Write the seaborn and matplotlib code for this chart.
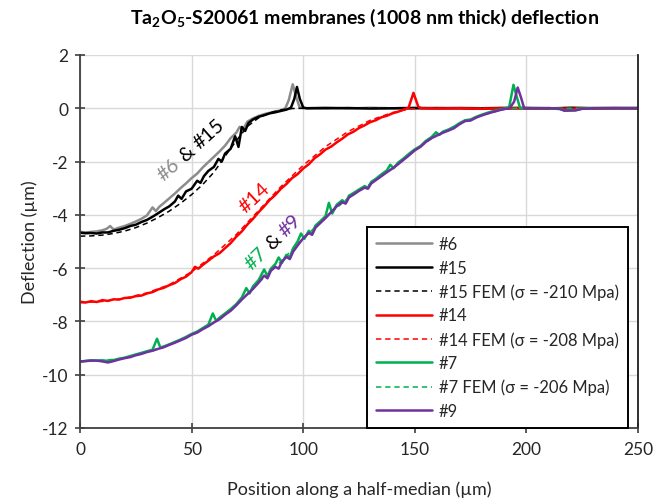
import numpy as np
import pandas as pd
import seaborn as sns
import matplotlib
matplotlib.use("Agg")
import matplotlib.pyplot as plt
import matplotlib.transforms as mtransforms

# ---------------- data ----------------
s6 = [(0,-4.64),(2.5,-4.66),(5,-4.64),(7.5,-4.62),(10,-4.58),(12,-4.52),(13.5,-4.42),(15,-4.55),
      (17.5,-4.48),(20,-4.42),(22.5,-4.34),(25,-4.25),(27.5,-4.15),(30,-4.02),(32.5,-3.72),(34,-3.86),
      (35.5,-3.70),(37.5,-3.56),(40,-3.38),(42.5,-3.20),(45,-3.00),(47.5,-2.82),(50,-2.62),(52.5,-2.45),
      (55,-2.22),(57.5,-2.02),(60,-1.82),(62.5,-1.62),(65,-1.40),(67.5,-1.12),(70,-0.92),(71.5,-0.70),
      (73,-0.80),(75,-0.50),(77.5,-0.38),(80,-0.29),(82.5,-0.22),(85,-0.17),(87.5,-0.12),(90,-0.07),
      (92,0.0),(93.5,0.30),(95.3,0.90),(96.8,0.45),(98.3,0.05),(100,0.0),(110,0.03),(120,-0.01),
      (130,0.02),(140,0.0),(150,0.03),(160,-0.01),(170,0.02),(180,0.0),(190,0.03),(200,0.01),
      (210,-0.02),(220,0.03),(230,0.01),(240,0.02),(250,0.0)]

s15 = [(0,-4.67),(2.5,-4.69),(5,-4.68),(7.5,-4.70),(10,-4.66),(12.5,-4.66),(15,-4.60),(17.5,-4.56),
       (20,-4.50),(22.5,-4.42),(25,-4.37),(27.5,-4.27),(30,-4.19),(32.5,-4.07),(35,-3.94),(37.5,-3.80),
       (40,-3.68),(42.5,-3.50),(44,-3.28),(45.5,-3.40),(47.5,-3.12),(50,-3.02),(52.5,-2.72),(54,-2.80),
       (55.5,-2.55),(57.5,-2.35),(60,-2.20),(62,-1.90),(63.5,-2.00),(65,-1.70),(67.5,-1.52),(69.5,-1.05),
       (71,-1.45),(72.5,-0.70),(74,-0.85),(75.5,-0.55),(77.5,-0.42),(80,-0.32),(82.5,-0.26),(85,-0.19),
       (87.5,-0.15),(90,-0.10),(92.5,-0.05),(94.5,0.02),(96,0.35),(97.2,0.80),(98.5,0.35),(100,0.03),
       (101.5,0.0),(110,0.0),(120,0.01),(130,-0.01),(140,0.0),(150,0.0),(160,0.01),(170,0.0),
       (180,-0.01),(190,0.0),(200,0.01),(210,0.0),(220,0.01),(230,0.0),(240,0.0),(250,0.01)]

s15_fem = [(0,-4.80),(5,-4.79),(10,-4.76),(15,-4.70),(20,-4.61),(25,-4.48),(30,-4.31),(35,-4.10),
           (40,-3.86),(45,-3.57),(50,-3.24),(55,-2.86),(60,-2.40),(65,-1.80),(70,-1.22),(75,-0.68),
           (80,-0.36),(85,-0.17),(90,-0.06),(95,-0.01),(100,0.0),(250,0.0)]

s14 = [(0,-7.26),(2.5,-7.29),(5,-7.24),(7.5,-7.27),(10,-7.20),(12.5,-7.23),(15,-7.17),(17.5,-7.18),
       (20,-7.12),(22.5,-7.11),(25,-7.05),(27.5,-7.03),(30,-6.95),(32.5,-6.90),(35,-6.80),(37.5,-6.74),
       (40,-6.64),(42.5,-6.56),(45,-6.42),(47.5,-6.32),(50,-6.15),(51.5,-5.95),(53,-6.02),(55,-5.88),
       (57.5,-5.72),(60,-5.56),(62.5,-5.44),(65,-5.25),(67.5,-5.06),(70,-4.82),(72.5,-4.62),(75,-4.36),
       (77.5,-4.15),(80,-3.90),(82.5,-3.68),(85,-3.44),(87.5,-3.25),(90,-3.02),(92.5,-2.84),(95,-2.62),
       (97.5,-2.47),(100,-2.26),(102.5,-2.10),(105,-1.88),(107.5,-1.73),(110,-1.55),(112.5,-1.44),
       (115,-1.28),(117.5,-1.14),(120,-0.98),(122.5,-0.88),(125,-0.74),(127.5,-0.64),(130,-0.52),
       (132.5,-0.45),(135,-0.34),(137.5,-0.28),(140,-0.19),(142.5,-0.13),(145,-0.05),(147.2,0.02),
       (149.4,0.58),(151.6,0.05),(153,0.0),(160,-0.01),(170,0.0),(180,-0.02),(190,0.0),(200,-0.01),
       (210,0.0),(220,-0.02),(230,0.0),(240,-0.01),(250,0.0)]

s14_fem = [(0,-7.30),(10,-7.25),(20,-7.13),(30,-6.93),(40,-6.62),(50,-6.14),(60,-5.50),(70,-4.74),
           (80,-3.84),(90,-2.94),(100,-2.14),(110,-1.44),(120,-0.88),(130,-0.45),(140,-0.16),
           (148,-0.02),(152,0.0),(250,0.0)]

s7 = [(0,-9.52),(2.5,-9.48),(5,-9.46),(7.5,-9.47),(10,-9.46),(12.5,-9.48),(15,-9.45),(17.5,-9.40),
      (20,-9.36),(22.5,-9.30),(25,-9.24),(27.5,-9.18),(30,-9.12),(32.5,-9.06),(34.5,-8.65),(36,-8.98),
      (37.5,-8.94),(40,-8.86),(42.5,-8.77),(45,-8.68),(47.5,-8.58),(50,-8.47),(52.5,-8.38),(55,-8.25),
      (57.5,-8.12),(59.5,-7.70),(61,-7.98),(62.5,-7.86),(65,-7.70),(67.5,-7.54),(70,-7.35),(72.5,-7.10),
      (74.5,-6.75),(76,-6.95),(77.5,-6.68),(80,-6.45),(82.5,-6.05),(84,-6.30),(85.5,-6.02),(87.5,-5.85),
      (89,-5.60),(90.5,-5.80),(92.5,-5.50),(94,-5.60),(95.5,-5.25),(97.5,-5.00),(99,-4.70),(100.5,-4.90),
      (102.5,-4.60),(104,-4.70),(105.5,-4.40),(107.5,-4.25),(110,-4.05),(111.5,-3.55),(113,-3.95),
      (115,-3.62),(117.5,-3.45),(119,-3.55),(120.5,-3.28),(122.5,-3.18),(125,-3.05),(127.5,-2.92),
      (129,-2.98),(130.5,-2.76),(132.5,-2.65),(135,-2.48),(137.5,-2.33),(139,-2.12),(140.5,-2.25),
      (142.5,-2.04),(145,-1.88),(147.5,-1.70),(150,-1.54),(152.5,-1.42),(155,-1.22),(157.5,-1.08),
      (159.5,-0.90),(161,-1.00),(162.5,-0.88),(165,-0.80),(167.5,-0.70),(170,-0.56),(172.5,-0.45),
      (175,-0.42),(177.5,-0.32),(180,-0.24),(182.5,-0.17),(185,-0.11),(187.5,-0.06),(190,-0.02),
      (192.3,0.05),(194.2,0.88),(195.8,0.40),(197.2,0.0),(205,0.01),(210,0.0),(215,-0.03),(217,-0.08),
      (222,-0.07),(225,-0.01),(230,0.01),(240,0.0),(250,0.01)]

s7_fem = [(0,-9.50),(10,-9.47),(20,-9.37),(30,-9.15),(40,-8.88),(50,-8.50),(60,-8.02),(70,-7.38),
          (80,-6.55),(90,-5.75),(100,-4.88),(110,-4.10),(120,-3.38),(130,-2.84),(140,-2.24),
          (150,-1.57),(160,-1.00),(170,-0.58),(180,-0.26),(190,-0.04),(195,0.0),(250,0.0)]

s9 = [(0,-9.50),(2.5,-9.49),(5,-9.47),(7.5,-9.47),(10,-9.50),(12.5,-9.54),(15,-9.49),(17.5,-9.43),
      (20,-9.38),(22.5,-9.34),(25,-9.27),(27.5,-9.22),(30,-9.15),(32.5,-9.10),(35,-9.03),(37.5,-8.97),
      (40,-8.88),(42.5,-8.80),(45,-8.71),(47.5,-8.62),(50,-8.50),(52.5,-8.42),(55,-8.29),(57.5,-8.18),
      (60,-8.04),(62.5,-7.92),(65,-7.75),(67.5,-7.60),(70,-7.40),(72.5,-7.18),(75,-6.98),(77.5,-6.78),
      (80,-6.55),(82.5,-6.28),(84,-6.38),(85.5,-6.10),(87.5,-5.95),(89,-6.02),(90.5,-5.75),(92.5,-5.58),
      (94,-5.66),(95.5,-5.38),(97.5,-5.15),(100,-4.88),(102.5,-4.68),(104,-4.75),(105.5,-4.48),
      (107.5,-4.32),(110,-4.12),(112.5,-3.90),(115,-3.68),(117.5,-3.52),(119,-3.58),(120.5,-3.35),
      (122.5,-3.24),(125,-3.10),(127.5,-2.98),(129,-3.02),(130.5,-2.82),(132.5,-2.70),(135,-2.55),
      (137.5,-2.40),(140,-2.26),(142.5,-2.10),(145,-1.93),(147.5,-1.76),(150,-1.58),(152.5,-1.45),
      (155,-1.26),(157.5,-1.12),(160,-1.02),(162.5,-0.92),(165,-0.84),(167.5,-0.75),(170,-0.60),
      (172.5,-0.48),(175,-0.46),(177.5,-0.35),(180,-0.27),(182.5,-0.20),(185,-0.14),(187.5,-0.08),
      (190,-0.03),(192.5,0.0),(194.5,0.25),(196.1,0.78),(197.6,0.40),(199,0.0),(205,0.0),(210,0.01),
      (215,-0.02),(217,-0.09),(222,-0.08),(225,-0.02),(230,0.0),(240,0.01),(250,0.0)]

series_labels = ["#6", "#15", "#15 FEM (σ = -210 Mpa)", "#14", "#14 FEM (σ = -208 Mpa)",
                 "#7", "#7 FEM (σ = -206 Mpa)", "#9"]
series_data = [s6, s15, s15_fem, s14, s14_fem, s7, s7_fem, s9]
series_colors = ["#8c8c8c", "#000000", "#000000", "#ff0000", "#ff0000", "#00b050", "#00b050", "#7030a0"]
series_dashed = [False, False, True, False, True, False, True, False]

x_ticks = [0, 50, 100, 150, 200, 250]
y_ticks = [-12, -10, -8, -6, -4, -2, 0, 2]

# ---------------- style ----------------
sns.set_theme(style="white")
plt.rcParams['font.family'] = ['Lato', 'DejaVu Sans']
plt.rcParams['mathtext.fontset'] = 'custom'
plt.rcParams['mathtext.rm'] = 'Lato'
plt.rcParams['mathtext.bf'] = 'Lato:bold'
plt.rcParams['axes.unicode_minus'] = False

fig = plt.figure(figsize=(6.65, 5.02), dpi=100)
ax = fig.add_axes([80/665, 73/502, 558/665, 373/502])

for lab, data, col, dashed in zip(series_labels, series_data, series_colors, series_dashed):
    df = pd.DataFrame(data, columns=["x", "y"])
    if dashed:
        sns.lineplot(data=df, x="x", y="y", ax=ax, color=col, lw=1.1, label=lab,
                     estimator=None, sort=False, dashes=False, linestyle=(0, (3.5, 2.5)))
    else:
        sns.lineplot(data=df, x="x", y="y", ax=ax, color=col, lw=1.8, label=lab,
                     estimator=None, sort=False)

ax.set_xlim(0, 250)
ax.set_ylim(-12, 2)
ax.set_xticks(x_ticks)
ax.set_yticks(y_ticks)
ax.grid(True, color="#d9d9d9", lw=1.0)
ax.set_axisbelow(True)

for side in ["left", "bottom"]:
    ax.spines[side].set_color("#404040")
    ax.spines[side].set_linewidth(1.3)
ax.spines["right"].set_color("#202020")
ax.spines["right"].set_linewidth(1.3)
ax.spines["top"].set_visible(False)

ax.tick_params(axis="both", which="major", direction="inout", length=7, width=1.2,
               color="#404040", labelsize=12.5, labelcolor="#262626", left=True, bottom=True)
ax.tick_params(axis="x", pad=6)
ax.tick_params(axis="y", pad=5)
ax.set_xlabel("Position along a half-median (µm)", fontsize=13, color="#262626", labelpad=17)
ax.set_ylabel("Deflection (µm)", fontsize=13, color="#262626", labelpad=3)

fig.text(365/665, 1 - 18/502, r"Ta$_\mathbf{2}$O$_\mathbf{5}$-S20061 membranes (1008 nm thick) deflection",
         ha="center", va="center", fontsize=14, fontweight="bold", color="#000000")

leg = ax.legend(loc="upper right", bbox_to_anchor=(0.982, 0.539), borderaxespad=0,
                fontsize=11.9, frameon=True, fancybox=False, framealpha=1, edgecolor="#000000",
                handlelength=3.4, handletextpad=0.4, labelspacing=0.46, borderpad=0.55)
leg.get_frame().set_linewidth(1.4)
for t in leg.get_texts():
    t.set_color("#262626")

# ---------------- multi-colour rotated annotations ----------------
fig.canvas.draw()
renderer = fig.canvas.get_renderer()

def text_width(s, fs):
    t = fig.text(0, 0, s, fontsize=fs)
    w = t.get_window_extent(renderer).width
    t.remove()
    return w

def rotated_label(xc, yc, parts, angle, fs):
    space = text_width("x x", fs) - text_width("xx", fs)
    widths = [text_width(s, fs) for s, _ in parts]
    total = sum(widths) + space * (len(parts) - 1)
    c, s_ = np.cos(np.radians(angle)), np.sin(np.radians(angle))
    pos = -total / 2
    for (txt, col), w in zip(parts, widths):
        tr = mtransforms.offset_copy(ax.transData, fig=fig, x=pos * c, y=pos * s_, units="dots")
        ax.text(xc, yc, txt, color=col, fontsize=fs, rotation=angle, rotation_mode="anchor",
                ha="left", va="center", transform=tr)
        pos += w + space

rotated_label(49.9, -1.55, [("#6", "#8c8c8c"), ("&", "#000000"), ("#15", "#000000")], 41.5, 14.5)
rotated_label(78.2, -3.35, [("#14", "#ff0000")], 43, 14.5)
rotated_label(86.6, -5.0, [("#7", "#00b050"), ("&", "#000000"), ("#9", "#7030a0")], 44, 14.5)

fig.savefig("out.png", dpi=100)
